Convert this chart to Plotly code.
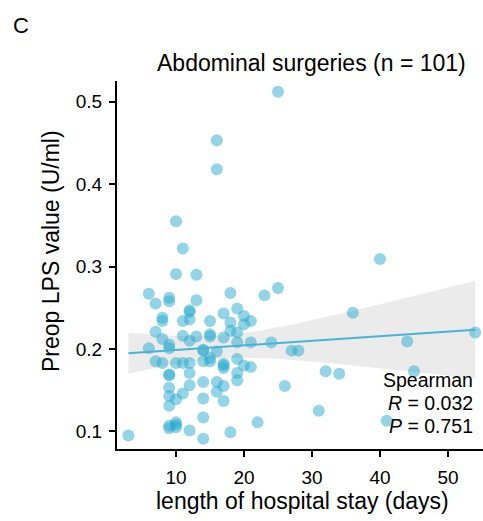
import numpy as np
import plotly.graph_objects as go

# Length of hospital stay (days) and preoperative LPS (U/ml), abdominal surgeries
stay_days = [
    25, 16, 16, 10, 11, 40, 10, 13, 25, 6,
    18, 23, 9, 9, 13, 7, 19, 12, 36, 17,
    20, 8, 8, 12, 11, 15, 21, 18, 20, 7,
    18, 19, 54, 15, 15, 11, 13, 17, 8, 12,
    44, 19, 21, 24, 9, 9, 6, 14, 27, 28,
    16, 15, 19, 7, 14, 15, 8, 10, 11, 12,
    17, 17, 20, 21, 32, 45, 34, 9, 12, 19,
    19, 14, 16, 12, 17, 26, 9, 16, 11, 9,
    14, 10, 17, 9, 31, 14, 41, 22, 10, 9,
    10, 12, 18, 3, 14, 9, 9, 12, 10, 14,
    17,
]
lps_value = [
    0.512, 0.453, 0.418, 0.355, 0.322, 0.309, 0.291, 0.290, 0.274, 0.267,
    0.268, 0.265, 0.262, 0.258, 0.259, 0.255, 0.249, 0.247, 0.244, 0.243,
    0.240, 0.238, 0.234, 0.236, 0.234, 0.234, 0.234, 0.232, 0.230, 0.221,
    0.222, 0.220, 0.220, 0.218, 0.215, 0.216, 0.215, 0.214, 0.212, 0.210,
    0.209, 0.208, 0.208, 0.208, 0.205, 0.201, 0.201, 0.199, 0.198, 0.198,
    0.197, 0.189, 0.188, 0.185, 0.185, 0.185, 0.183, 0.183, 0.183, 0.183,
    0.182, 0.177, 0.180, 0.178, 0.173, 0.173, 0.170, 0.169, 0.171, 0.171,
    0.162, 0.160, 0.160, 0.156, 0.155, 0.155, 0.153, 0.148, 0.146, 0.143,
    0.140, 0.139, 0.137, 0.131, 0.125, 0.117, 0.113, 0.111, 0.111, 0.107,
    0.105, 0.101, 0.099, 0.095, 0.091, 0.168, 0.104, 0.245, 0.108, 0.198,
    0.180,
]

x_ticks = [10, 20, 30, 40, 50]
y_ticks = [0.1, 0.2, 0.3, 0.4, 0.5]
panel_label = "C"
title_text = "Abdominal surgeries (n = 101)"
x_title = "length of hospital stay (days)"
y_title = "Preop LPS value (U/ml)"
spearman_r = 0.032
spearman_p = 0.751

x = np.asarray(stay_days, dtype=float)
y = np.asarray(lps_value, dtype=float)

# Ordinary least squares line with 95% confidence band
n = len(x)
slope, intercept = np.polyfit(x, y, 1)
resid = y - (slope * x + intercept)
s = np.sqrt(np.sum(resid ** 2) / (n - 2))
xm = x.mean()
sxx = np.sum((x - xm) ** 2)
t975 = 1.984
xs = np.linspace(x.min(), x.max(), 80)
ys = slope * xs + intercept
se = s * np.sqrt(1.0 / n + (xs - xm) ** 2 / sxx)
upper = ys + t975 * se
lower = ys - t975 * se

point_color = "rgba(40,170,205,0.5)"
line_color = "#45B4D6"
font_family = "Liberation Sans, Arial, sans-serif"

fig = go.Figure()
fig.add_trace(go.Scatter(
    x=np.concatenate([xs, xs[::-1]]),
    y=np.concatenate([upper, lower[::-1]]),
    fill="toself", fillcolor="rgba(153,153,153,0.2)",
    line=dict(width=0), mode="lines", hoverinfo="skip", showlegend=False,
))
fig.add_trace(go.Scatter(
    x=x, y=y, mode="markers",
    marker=dict(size=12, color=point_color, line=dict(width=0)),
    showlegend=False,
))
fig.add_trace(go.Scatter(
    x=xs, y=ys, mode="lines",
    line=dict(color=line_color, width=2), showlegend=False,
))

axis_common = dict(
    showgrid=False, zeroline=False, showline=True, linecolor="black",
    linewidth=2, ticks="outside", ticklen=6, tickwidth=2, tickcolor="black",
    tickfont=dict(size=19, color="black", family=font_family),
)
fig.update_xaxes(range=[1.32, 55.15], tickvals=x_ticks,
                 ticklabelstandoff=4, **axis_common)
fig.update_yaxes(range=[0.0787, 0.525], tickvals=y_ticks,
                 ticktext=[f"{v:.1f}" for v in y_ticks],
                 ticklabelstandoff=3, **axis_common)

# plot-area pixel bounds; annotations are placed in paper units
L, R, T, B = 117, 483, 81, 449
def px_x(p):
    return (p - L) / (R - L)
def px_y(p):
    return (B - p) / (B - T)

def label(text, px, py, size, xanchor="center", angle=0):
    fig.add_annotation(
        text=text, x=px_x(px), y=px_y(py), xref="paper", yref="paper",
        showarrow=False, xanchor=xanchor, yanchor="middle", textangle=angle,
        font=dict(size=size, color="black", family=font_family),
    )

label(panel_label, 21, 25, 22)
label(title_text, 311, 63, 23)
label(x_title, 302, 501, 23)
label(y_title, 51, 251, 23, angle=-90)

stat_lines = [
    ("Spearman", 380),
    (f"<i>R</i> = {spearman_r:.3f}", 403),
    (f"<i>P</i> = {spearman_p:.3f}", 426),
]
for txt, py in stat_lines:
    label(txt, 475, py, 19.5, xanchor="right")

fig.update_layout(
    width=483, height=521,
    margin=dict(l=L, r=483 - R, t=T, b=521 - B),
    paper_bgcolor="white", plot_bgcolor="white",
    font=dict(family=font_family, color="black"),
)

fig.write_html("out.html")
